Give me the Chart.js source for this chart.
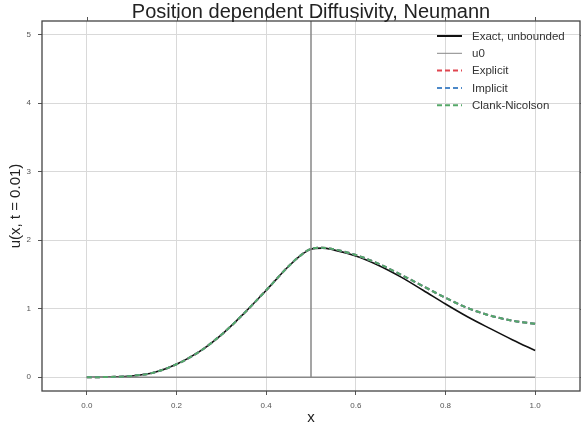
<!DOCTYPE html>
<html>
<head>
<meta charset="utf-8">
<script src="https://cdn.jsdelivr.net/npm/chart.js@4"></script>
<style>
  html, body { margin: 0; padding: 0; background: #fff; }
  #wrap { width: 581px; height: 430px; }
</style>
</head>
<body>
<div id="wrap"><canvas id="grafico" width="581" height="430"></canvas></div>
<script>
// dados
const titulo = 'Position dependent Diffusivity, Neumann';
const xTicks = [0.0, 0.2, 0.4, 0.6, 0.8, 1.0];
const yTicks = [0, 1, 2, 3, 4, 5];

const xs = [0, 0.05, 0.1, 0.15, 0.2, 0.25, 0.3, 0.35, 0.4, 0.45, 0.475, 0.5, 0.525, 0.55, 0.6, 0.65, 0.7, 0.75, 0.8, 0.85, 0.9, 0.95, 1.0];
const exata = [0, 0.005, 0.02, 0.07, 0.19, 0.37, 0.62, 0.93, 1.27, 1.62, 1.77, 1.87, 1.885, 1.86, 1.77, 1.635, 1.465, 1.27, 1.07, 0.88, 0.71, 0.545, 0.39];
const explicito = [0, 0.005, 0.02, 0.07, 0.19, 0.37, 0.62, 0.93, 1.27, 1.62, 1.77, 1.875, 1.89, 1.87, 1.785, 1.66, 1.50, 1.33, 1.16, 1.01, 0.9, 0.825, 0.78];
const implicito = [0, 0.005, 0.02, 0.07, 0.19, 0.37, 0.62, 0.93, 1.27, 1.62, 1.77, 1.875, 1.89, 1.87, 1.785, 1.66, 1.50, 1.33, 1.16, 1.01, 0.9, 0.825, 0.78];
const crankNicolson = [0, 0.005, 0.02, 0.07, 0.19, 0.37, 0.62, 0.93, 1.27, 1.62, 1.77, 1.875, 1.89, 1.87, 1.785, 1.66, 1.50, 1.33, 1.16, 1.01, 0.9, 0.825, 0.78];

// condicao inicial: delta em x = 0.5
const u0X = [0, 0.5, 0.5, 0.5, 1.0];
const u0Y = [0, 0, 100, 0, 0];

const fonte = "'Liberation Sans', Arial, sans-serif";

function pontos(xv, yv) {
    return xv.map((x, i) => ({ x: x, y: yv[i] }));
}

// moldura, ticks de cima/direita, titulo e legenda
const extras = {
    id: 'extras',
    afterDraw(chart) {
        const ctx = chart.ctx;
        const a = chart.chartArea;
        const sx = chart.scales.x;
        const sy = chart.scales.y;
        ctx.save();
        ctx.strokeStyle = '#444';
        ctx.lineWidth = 1.3;
        ctx.strokeRect(a.left, a.top, a.right - a.left, a.bottom - a.top);

        ctx.lineWidth = 1;
        ctx.strokeStyle = '#555';
        ctx.beginPath();
        xTicks.forEach(v => {
            const px = Math.round(sx.getPixelForValue(v)) + 0.5;
            ctx.moveTo(px, a.top);
            ctx.lineTo(px, a.top - 4);
        });
        yTicks.forEach(v => {
            const py = Math.round(sy.getPixelForValue(v)) + 0.5;
            ctx.moveTo(a.right, py);
            ctx.lineTo(a.right + 4, py);
        });
        ctx.stroke();

        // titulo
        ctx.fillStyle = '#222';
        ctx.font = '20px ' + fonte;
        ctx.textAlign = 'center';
        ctx.textBaseline = 'alphabetic';
        ctx.fillText(titulo, (a.left + a.right) / 2, 18);

        // legenda
        ctx.font = '11.5px ' + fonte;
        ctx.textAlign = 'left';
        ctx.textBaseline = 'middle';
        chart.data.datasets.forEach((ds, i) => {
            const y = 36 + i * 17.3;
            ctx.beginPath();
            ctx.strokeStyle = ds.borderColor;
            ctx.lineWidth = ds.legendWidth;
            ctx.setLineDash(ds.borderDash || []);
            ctx.moveTo(437, y);
            ctx.lineTo(462, y);
            ctx.stroke();
            ctx.setLineDash([]);
            ctx.fillStyle = '#333';
            ctx.fillText(ds.label, 472, y + 0.5);
        });
        ctx.restore();
    }
};

const ctx = document.getElementById('grafico').getContext('2d');
new Chart(ctx, {
    type: 'line',
    data: {
        datasets: [
            { label: 'Exact, unbounded', data: pontos(xs, exata), borderColor: '#111', borderWidth: 1.6, legendWidth: 2, order: 5 },
            { label: 'u0', data: pontos(u0X, u0Y), borderColor: '#888', borderWidth: 1.5, legendWidth: 1, order: 4, cubicInterpolationMode: 'default', tension: 0 },
            { label: 'Explicit', data: pontos(xs, explicito), borderColor: '#e0454f', borderWidth: 2, borderDash: [5, 3], legendWidth: 2, order: 3 },
            { label: 'Implicit', data: pontos(xs, implicito), borderColor: '#4c88c8', borderWidth: 2, borderDash: [5, 3], legendWidth: 2, order: 2 },
            { label: 'Clank-Nicolson', data: pontos(xs, crankNicolson), borderColor: '#55a868', borderWidth: 2, borderDash: [5, 3], legendWidth: 2, order: 1 }
        ]
    },
    options: {
        responsive: false,
        animation: false,
        events: [],
        layout: { padding: { top: 21, right: 1, left: 0, bottom: 0 } },
        elements: {
            point: { radius: 0 },
            line: { cubicInterpolationMode: 'monotone', fill: false }
        },
        plugins: {
            legend: { display: false },
            title: { display: false },
            tooltip: { enabled: false }
        },
        scales: {
            x: {
                type: 'linear',
                min: -0.1,
                max: 1.1,
                afterBuildTicks: s => { s.ticks = xTicks.map(v => ({ value: v })); },
                afterFit: s => { s.height = 39; },
                border: { display: false },
                grid: { color: '#d9d9d9', lineWidth: 1, tickLength: 4, tickColor: '#555' },
                ticks: {
                    padding: 6,
                    color: '#555',
                    font: { size: 8, family: fonte },
                    maxRotation: 0,
                    callback: v => v.toFixed(1)
                },
                title: {
                    display: true,
                    text: 'x',
                    color: '#222',
                    font: { size: 15, family: fonte },
                    padding: { top: 0, bottom: 3 }
                }
            },
            y: {
                type: 'linear',
                min: -0.2,
                max: 5.2,
                afterBuildTicks: s => { s.ticks = yTicks.map(v => ({ value: v })); },
                afterFit: s => { s.width = 42; },
                border: { display: false },
                grid: { color: '#d9d9d9', lineWidth: 1, tickLength: 4, tickColor: '#555' },
                ticks: {
                    padding: 7,
                    color: '#555',
                    font: { size: 8, family: fonte },
                    callback: v => String(v)
                },
                title: {
                    display: true,
                    text: 'u(x, t = 0.01)',
                    color: '#222',
                    font: { size: 15, family: fonte },
                    padding: { top: 7, bottom: 0 }
                }
            }
        }
    },
    plugins: [extras]
});
</script>
</body>
</html>
